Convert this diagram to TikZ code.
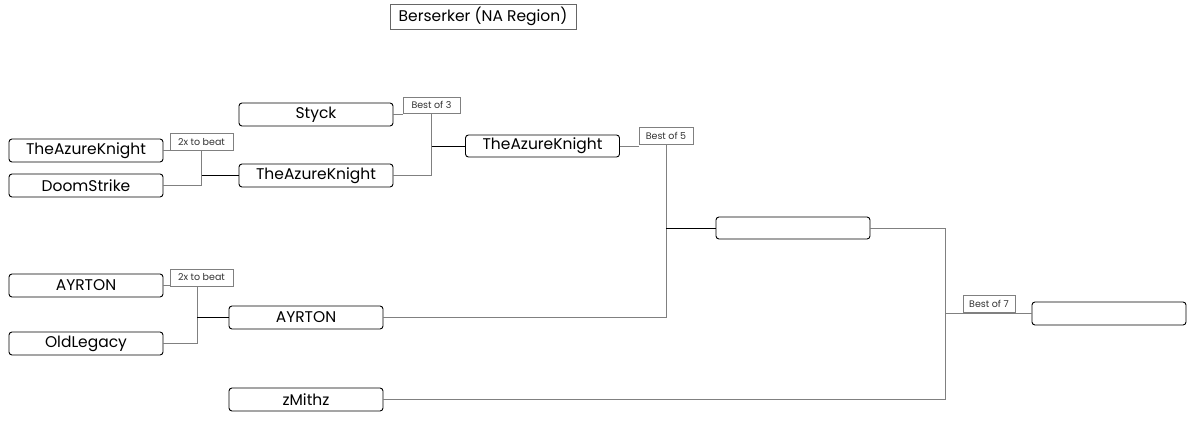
\documentclass[tikz,border=0pt]{standalone}
\usepackage{fontspec}
\setmainfont{Poppins}
\usetikzlibrary{positioning}
\tikzset{
  player/.style={draw,rounded corners=3pt,line width=0.9pt,minimum width=154pt,minimum height=23pt,inner sep=0pt,font=\fontsize{15.5}{16}\selectfont},
  tag/.style={draw=gray,line width=0.6pt,inner sep=0pt,minimum height=17pt,font=\fontsize{9.5}{10}\selectfont,text=black!80},
  wire/.style={draw=gray,line width=0.9pt},
  feed/.style={draw=black,line width=0.9pt}
}
\begin{document}
\begin{tikzpicture}[x=1pt,y=-1pt]
\useasboundingbox (0,0) rectangle (1200,428);
\node[draw=gray!80!black,line width=0.7pt,minimum width=186pt,minimum height=25pt,inner sep=0pt,font=\fontsize{15.5}{16}\selectfont] (title) at (483,16.5) {Berserker (NA Region)};
% first round
\node[player] (azure1) at (86,150.5) {TheAzureKnight};
\node[player] (doom) at (86,185.5) {DoomStrike};
\node[player] (ayrton1) at (86,285.5) {AYRTON};
\node[player] (legacy) at (86,343.5) {OldLegacy};
\node[tag,minimum width=63pt] (beatA) at (201.5,142) {2x to beat};
\node[tag,minimum width=63pt] (beatB) at (201.5,277.5) {2x to beat};
% second round
\node[player] (styck) at (316,114.5) {Styck};
\node[player] (azure2) at (316,175.5) {TheAzureKnight};
\node[player] (ayrton2) at (306,317.5) {AYRTON};
\node[player] (zmithz) at (306,399.5) {zMithz};
\node[tag,minimum width=57pt,minimum height=16pt] (bo3) at (431.5,105) {Best of 3};
% later rounds
\node[player,minimum height=22pt] (azure3) at (542.5,146) {TheAzureKnight};
\node[tag,minimum width=54pt] (bo5) at (666,136) {Best of 5};
\node[player,minimum height=22pt] (semi) at (793,228) {};
\node[tag,minimum width=52pt] (bo7) at (989,304) {Best of 7};
\node[player] (final) at (1109,313.5) {};
\coordinate (jB) at (197,286);
\coordinate (j7) at (945,228);
\draw[wire] (azure1.east) -- (azure1.east -| beatA.west);
\draw[wire] (beatA.south) -- (beatA.south |- doom.east) -- (doom.east);
\draw[feed] (beatA.south |- azure2.west) -- (azure2.west);
\draw[wire] (ayrton1.east) -- (ayrton1.east -| beatB.west);
\draw[wire] (jB) -- (jB |- legacy.east) -- (legacy.east);
\draw[feed] (jB |- ayrton2.west) -- (ayrton2.west);
\draw[wire] (styck.east) -- (styck.east -| bo3.west);
\draw[wire] (bo3.south) -- (bo3.south |- azure2.east) -- (azure2.east);
\draw[feed] (bo3.south |- azure3.west) -- (azure3.west);
\draw[wire] (azure3.east) -- (azure3.east -| bo5.west);
\draw[wire] (bo5.south) -- (bo5.south |- ayrton2.east) -- (ayrton2.east);
\draw[feed] (bo5.south |- semi.west) -- (semi.west);
\draw[wire] (semi.east) -- (j7) -- (j7 |- zmithz.east) -- (zmithz.east);
\draw[wire] (j7 |- final.west) -- (final.west);
\end{tikzpicture}
\end{document}
